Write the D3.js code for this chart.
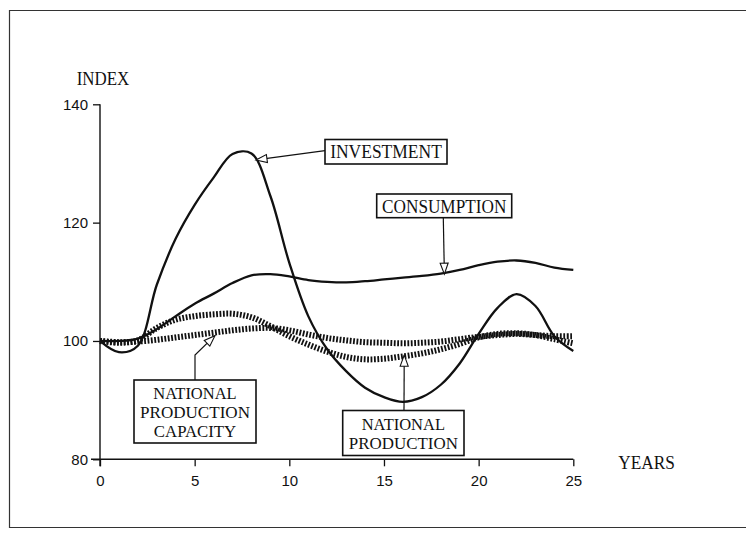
<!DOCTYPE html>
<html>
<head>
<meta charset="utf-8">
<script src="https://cdn.jsdelivr.net/npm/d3@7"></script>
<style>
  html, body { margin: 0; padding: 0; background: #fff; }
  svg { display: block; }
</style>
</head>
<body>
<script>
// ---- data ----
const years = [0,1,2,3,4,5,6,7,8,9,10,11,12,13,14,15,16,17,18,19,20,21,22,23,24,25];
const investment = [100,98.1,99.2,109.5,117.3,123.0,127.6,131.6,131.7,124.5,113.2,104.2,98.6,94.9,92.1,90.5,89.7,90.5,92.6,96.2,101.2,105.6,107.9,105.9,100.8,98.3];
const consumption = [100,100,100.4,102.0,104.2,106.3,108.0,109.8,111.1,111.3,110.9,110.3,110.0,109.9,110.1,110.4,110.7,111.0,111.4,112.0,112.8,113.4,113.6,113.2,112.4,112.0];
const nationalProduction = [100,99.7,100.1,102.2,103.6,104.2,104.5,104.6,104.0,102.5,100.8,99.4,98.2,97.3,96.9,97.0,97.4,97.9,98.6,99.5,100.6,101.2,101.3,101.0,100.3,99.6];
const productionCapacity = [100,99.8,99.9,100.2,100.6,101.0,101.4,101.8,102.1,102.2,101.8,101.1,100.5,100.1,99.8,99.7,99.6,99.7,99.9,100.3,100.7,101.0,101.2,101.0,100.8,100.8];
const xTicks = [0,5,10,15,20,25];
const yTicks = [80,100,120,140];
const labels = {
  investment: ["INVESTMENT"],
  consumption: ["CONSUMPTION"],
  production: ["NATIONAL","PRODUCTION"],
  capacity: ["NATIONAL","PRODUCTION","CAPACITY"]
};

const W = 746, H = 534;
const svg = d3.select("body").append("svg").attr("width", W).attr("height", H);

// frame
svg.append("path")
  .attr("d", "M746,10.5 H9.5 V527.5 H746")
  .attr("fill", "none").attr("stroke", "#333").attr("stroke-width", 1.2);

const x = d3.scaleLinear().domain([0, 25]).range([100, 573.3]);
const y = d3.scaleLinear().domain([80, 140]).range([459.3, 104.3]);

const ink = "#111";

// axes
const gx = svg.append("g").attr("transform", `translate(0,${y(80)})`)
  .call(d3.axisBottom(x).tickValues(xTicks).tickSize(7).tickPadding(9).tickSizeOuter(0));
gx.select(".domain").remove();
gx.selectAll("line").attr("stroke", ink).attr("stroke-width", 1.3);
gx.selectAll("text").attr("font-family", "'Liberation Sans', Arial, sans-serif")
  .attr("font-size", 15).attr("fill", ink);

const gy = svg.append("g").attr("transform", `translate(${x(0)},0)`)
  .call(d3.axisLeft(y).tickValues(yTicks).tickSize(7).tickPadding(5).tickSizeOuter(0));
gy.select(".domain").remove();
gy.selectAll("line").attr("stroke", ink).attr("stroke-width", 1.3);
gy.selectAll("text").attr("font-family", "'Liberation Sans', Arial, sans-serif")
  .attr("font-size", 15).attr("fill", ink);

// axis lines
svg.append("line").attr("x1", x(0) - 9).attr("x2", x(25)).attr("y1", y(80)).attr("y2", y(80))
  .attr("stroke", ink).attr("stroke-width", 1.4);
svg.append("line").attr("x1", x(0)).attr("x2", x(0)).attr("y1", y(140)).attr("y2", y(80) + 7)
  .attr("stroke", ink).attr("stroke-width", 1.4);

// axis titles
const serif = "'Liberation Serif', 'Times New Roman', serif";
svg.append("text").text("INDEX").attr("x", 76.7).attr("y", 85)
  .attr("font-family", serif).attr("font-size", 19).attr("fill", ink)
  .attr("textLength", 52.6).attr("lengthAdjust", "spacingAndGlyphs");
svg.append("text").text("YEARS").attr("x", 618.3).attr("y", 469.3)
  .attr("font-family", serif).attr("font-size", 19).attr("fill", ink)
  .attr("textLength", 56.7).attr("lengthAdjust", "spacingAndGlyphs");

// lines
const line = d3.line().x((d, i) => x(years[i])).y(d => y(d)).curve(d3.curveCatmullRom.alpha(0.5));

[productionCapacity, nationalProduction].forEach(s => {
  svg.append("path").attr("d", line(s)).attr("fill", "none")
    .attr("stroke", ink).attr("stroke-width", 6)
    .attr("stroke-dasharray", "1.8 1.6");
});
[consumption, investment].forEach(s => {
  svg.append("path").attr("d", line(s)).attr("fill", "none")
    .attr("stroke", ink).attr("stroke-width", 2.3).attr("stroke-linejoin", "round");
});

// annotations: box in pixels, arrow path ending at a point in data space
function arrowHead(tip, from) {
  const dx = tip[0] - from[0], dy = tip[1] - from[1];
  const len = Math.hypot(dx, dy), ux = dx / len, uy = dy / len;
  const L = 11, Hw = 4;
  const bx = tip[0] - ux * L, by = tip[1] - uy * L;
  return `M${tip[0]},${tip[1]} L${bx - uy * Hw},${by + ux * Hw} L${bx + uy * Hw},${by - ux * Hw} Z`;
}

const notes = [
  { lines: labels.investment, size: 19, box: [325, 139.5, 122, 24.5], widths: [111.7], base: [158.3],
    path: [[325, 150.7]], tip: [8.24, 130.6] },
  { lines: labels.consumption, size: 19, box: [376.7, 194, 135, 23.7], widths: [124.3], base: [212.7],
    path: [[443.3, 217.7]], tip: [18.19, 111.3] },
  { lines: labels.capacity, size: 17, box: [134, 380, 122, 63], widths: [83.3, 110, 82.3], base: [398.5, 417.5, 436.5],
    path: [[195, 380], [195, 355]], tip: [6.07, 100.9] },
  { lines: labels.production, size: 17, box: [342.7, 410.5, 121.3, 45], widths: [83.3, 109], base: [429.5, 448.5],
    path: [[404, 410.5]], tip: [16.07, 97.6] }
];

notes.forEach(n => {
  const tip = [x(n.tip[0]), y(n.tip[1])];
  const pts = n.path.concat([tip]);
  svg.append("path").attr("d", d3.line()(pts)).attr("fill", "none")
    .attr("stroke", ink).attr("stroke-width", 1.2);
  svg.append("path").attr("d", arrowHead(tip, pts[pts.length - 2]))
    .attr("fill", "#fff").attr("stroke", ink).attr("stroke-width", 1.1).attr("stroke-linejoin", "miter");
  svg.append("rect").attr("x", n.box[0]).attr("y", n.box[1]).attr("width", n.box[2]).attr("height", n.box[3])
    .attr("fill", "#fff").attr("stroke", ink).attr("stroke-width", 1.6);
  const cx = n.box[0] + n.box[2] / 2;
  n.lines.forEach((t, i) => {
    svg.append("text").text(t).attr("x", cx).attr("y", n.base[i]).attr("text-anchor", "middle")
      .attr("font-family", serif).attr("font-size", n.size).attr("fill", ink)
      .attr("textLength", n.widths[i]).attr("lengthAdjust", "spacingAndGlyphs");
  });
});
</script>
</body>
</html>
